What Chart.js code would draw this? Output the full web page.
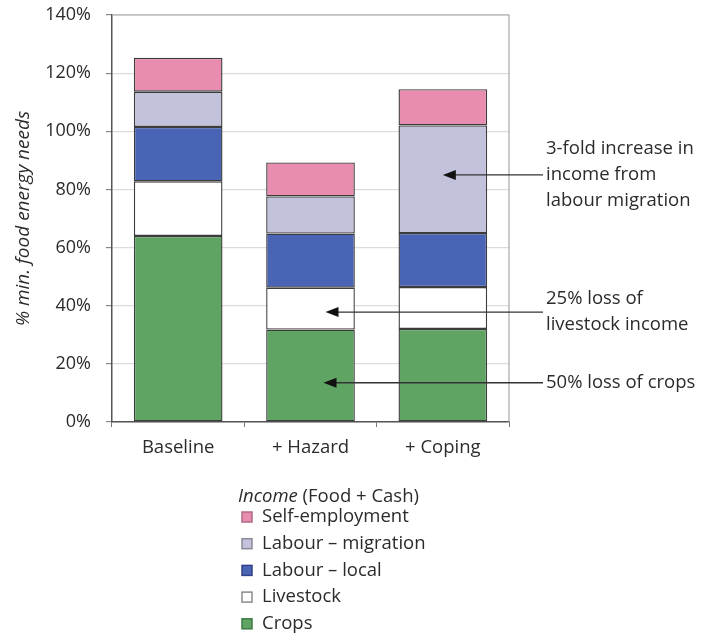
<!DOCTYPE html>
<html>
<head>
<meta charset="utf-8">
<script src="https://cdn.jsdelivr.net/npm/chart.js@4/dist/chart.umd.min.js"></script>
<style>
    html, body { margin: 0; padding: 0; background: #fff; }
    #wrap { width: 715px; height: 637px; }
</style>
</head>
<body>
<div id="wrap"><canvas id="incomeChart" width="715" height="637"></canvas></div>
<script>
// 数据
const categories = ['Baseline', '+ Hazard', '+ Coping'];
const crops = [64, 31.8, 32];
const livestock = [18.8, 14.4, 14.4];
const labourLocal = [18.7, 18.6, 18.6];
const labourMigration = [12.1, 12.8, 37];
const selfEmployment = [11.7, 11.7, 12.5];
const yTickValues = [0, 20, 40, 60, 80, 100, 120, 140];

// 注释文字、指向的柱子和数值
const noteLines = [
    ['3-fold increase in', 'income from', 'labour migration'],
    ['25% loss of', 'livestock income'],
    ['50% loss of crops']
];
const noteIndex = [2, 1, 1];
const noteValue = [85, 37.8, 13.5];

const FONT = "'Open Sans', 'DejaVu Sans', sans-serif";
const TEXT = '#2b2b2b';

// 注释箭头插件
const notesPlugin = {
    id: 'notes',
    afterDatasetsDraw(chart) {
        const ctx = chart.ctx;
        const x = chart.scales.x;
        const y = chart.scales.y;
        const tipShift = [0, 15, 13];
        const lineStart = chart.chartArea.right + 34;
        const textX = chart.chartArea.right + 37;
        ctx.save();
        for (let i = 0; i < noteLines.length; i++) {
            const py = y.getPixelForValue(noteValue[i]);
            const tip = x.getPixelForValue(noteIndex[i]) + tipShift[i];
            ctx.strokeStyle = '#333';
            ctx.lineWidth = 1.3;
            ctx.beginPath();
            ctx.moveTo(lineStart, py);
            ctx.lineTo(tip + 10, py);
            ctx.stroke();
            ctx.fillStyle = '#111';
            ctx.beginPath();
            ctx.moveTo(tip, py);
            ctx.lineTo(tip + 13, py - 5);
            ctx.lineTo(tip + 13, py + 5);
            ctx.closePath();
            ctx.fill();

            const lines = noteLines[i];
            const lh = 26;
            ctx.font = '18.5px ' + FONT;
            ctx.fillStyle = TEXT;
            ctx.textAlign = 'left';
            ctx.textBaseline = 'middle';
            const top = py - (lines.length - 1) * lh / 2;
            lines.forEach((t, k) => ctx.fillText(t, textX, top + k * lh));
        }
        ctx.restore();
    },
    beforeDatasetsDraw(chart) {
        // 右侧和顶部的浅色边框
        const a = chart.chartArea;
        const ctx = chart.ctx;
        ctx.save();
        ctx.strokeStyle = '#a8a8a8';
        ctx.lineWidth = 1.2;
        ctx.beginPath();
        ctx.moveTo(a.left, a.top);
        ctx.lineTo(a.right, a.top);
        ctx.lineTo(a.right, a.bottom);
        ctx.stroke();
        ctx.restore();
    }
};

// 图例插件
const legendPlugin = {
    id: 'customLegend',
    afterDraw(chart) {
        const ctx = chart.ctx;
        ctx.save();
        ctx.textBaseline = 'middle';
        ctx.textAlign = 'left';
        ctx.fillStyle = TEXT;
        ctx.font = 'italic 18.5px ' + FONT;
        const tx = 238, ty = 497;
        ctx.fillText('Income', tx, ty);
        const w = ctx.measureText('Income').width;
        ctx.font = '18.5px ' + FONT;
        ctx.fillText(' (Food + Cash)', tx + w, ty);

        const ds = chart.data.datasets.slice().reverse();
        ds.forEach((d, i) => {
            const cy = 517 + i * 26.7;
            ctx.fillStyle = d.backgroundColor;
            ctx.fillRect(242, cy - 5, 10, 10);
            ctx.strokeStyle = d.legendBorder;
            ctx.lineWidth = 1.5;
            ctx.strokeRect(242, cy - 5, 10, 10);
            ctx.fillStyle = TEXT;
            ctx.fillText(d.label, 262, cy);
        });
        ctx.restore();
    }
};

function makeSet(label, data, color, legendBorder) {
    return {
        label: label,
        data: data,
        backgroundColor: color,
        legendBorder: legendBorder,
        borderColor: '#3c3c3c',
        borderWidth: 1.4,
        borderSkipped: false,
        barPercentage: 0.67,
        categoryPercentage: 1
    };
}

Chart.defaults.font.family = FONT;
Chart.defaults.color = TEXT;

const ctx = document.getElementById('incomeChart').getContext('2d');
const incomeChart = new Chart(ctx, {
    type: 'bar',
    data: {
        labels: categories,
        datasets: [
            makeSet('Crops', crops, '#5fa462', '#3f7a44'),
            makeSet('Livestock', livestock, '#ffffff', '#8a8a8a'),
            makeSet('Labour \u2013 local', labourLocal, '#4a64b5', '#33418a'),
            makeSet('Labour \u2013 migration', labourMigration, '#c3c2dc', '#8b8a99'),
            makeSet('Self-employment', selfEmployment, '#e98db0', '#b06a86')
        ]
    },
    options: {
        responsive: false,
        devicePixelRatio: 1,
        animation: false,
        layout: {
            padding: { left: 0, right: 206, top: 15, bottom: 172 }
        },
        plugins: {
            legend: { display: false },
            tooltip: { enabled: false }
        },
        scales: {
            x: {
                stacked: true,
                border: { color: '#555', width: 1.5 },
                grid: {
                    drawOnChartArea: false,
                    drawTicks: true,
                    tickLength: 5,
                    tickColor: '#777',
                    offset: true
                },
                ticks: {
                    font: { size: 18.5 },
                    color: TEXT,
                    padding: 10
                },
                afterFit(scale) { scale.height = 43; }
            },
            y: {
                stacked: true,
                min: 0,
                max: 140,
                afterBuildTicks(scale) {
                    scale.ticks = yTickValues.map(v => ({ value: v }));
                },
                border: { color: '#555', width: 1.5 },
                grid: {
                    color: '#dcdcdc',
                    lineWidth: 1.2,
                    tickLength: 6,
                    tickColor: '#888'
                },
                ticks: {
                    font: { size: 18 },
                    color: TEXT,
                    padding: 15,
                    callback: v => v + '%'
                },
                title: {
                    display: true,
                    text: '% min. food energy needs',
                    font: { size: 19, style: 'italic' },
                    color: TEXT,
                    padding: { top: 12, bottom: 0 }
                },
                afterFit(scale) {
                    scale.width = 112;
                    scale.paddingTop = 0;
                    scale.paddingBottom = 0;
                }
            }
        }
    },
    plugins: [notesPlugin, legendPlugin]
});
</script>
</body>
</html>
